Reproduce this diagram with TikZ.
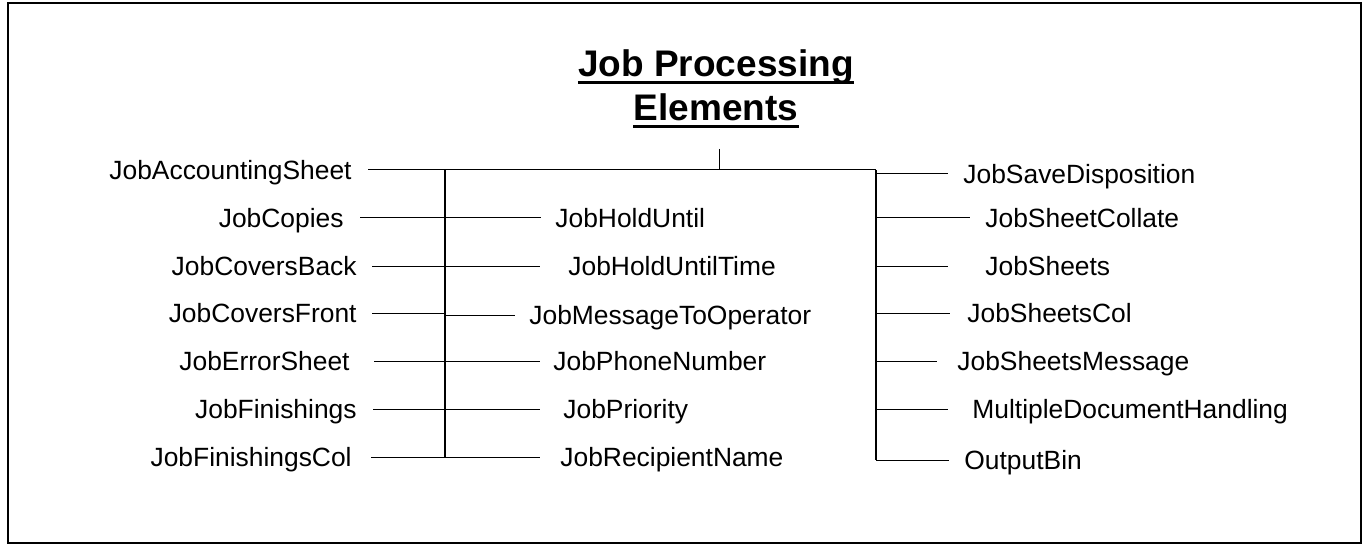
\documentclass[tikz,border=0pt]{standalone}
\usepackage{fontspec}
\setmainfont{Liberation Sans}

\tikzset{
  lbl/.style={inner xsep=#1, inner ysep=0pt, text height=9.5pt, text depth=0pt,
    font=\fontsize{13.2}{16}\selectfont},
  lbl/.default=7.5pt,
  ttl/.style={inner sep=0pt, font=\fontsize{18.5}{22}\selectfont\bfseries},
  branch/.style={line width=0.5pt},
  bus/.style={line width=0.9pt}
}

\begin{document}
\begin{tikzpicture}[x=0.5pt, y=-0.5pt]
  \useasboundingbox (0,0) rectangle (1364,545);
  \draw[line width=1pt] (8,3) rectangle (1361,543);

  % title
  \node[ttl, anchor=base] (ttl1) at (716,77) {Job Processing};
  \node[ttl, anchor=base] (ttl2) at (716,121) {Elements};
  \draw[line width=1.35pt] ([yshift=-2.75pt]ttl1.base west) -- ([yshift=-2.75pt]ttl1.base east);
  \draw[line width=1.35pt] ([yshift=-2.75pt]ttl2.base west) -- ([yshift=-2.75pt]ttl2.base east);

  % left column
  \node[lbl=8pt, anchor=east] (acc) at (368,170) {JobAccountingSheet};
  \node[lbl=8pt, anchor=east] (cop) at (360,218) {JobCopies};
  \node[lbl, anchor=east] (cvb) at (372,266) {JobCoversBack};
  \node[lbl, anchor=east] (cvf) at (372,313) {JobCoversFront};
  \node[lbl=12pt, anchor=east] (err) at (374,361) {JobErrorSheet};
  \node[lbl=8pt, anchor=east] (fin) at (373,409) {JobFinishings};
  \node[lbl=9.5pt, anchor=east] (fcl) at (371,457) {JobFinishingsCol};

  % middle column
  \node[lbl=7pt, anchor=west] (hld) at (541,218) {JobHoldUntil};
  \node[lbl=14pt, anchor=west] (hlt) at (540,266) {JobHoldUntilTime};
  \node[lbl=7pt, anchor=west] (msg) at (515,315) {JobMessageToOperator};
  \node[lbl=6.5pt, anchor=west] (phn) at (540,361) {JobPhoneNumber};
  \node[lbl=11.5pt, anchor=west] (pri) at (540,409) {JobPriority};
  \node[lbl=10pt, anchor=west] (rcp) at (540,457) {JobRecipientName};

  % right column
  \node[lbl, anchor=west] (sav) at (948,174) {JobSaveDisposition};
  \node[lbl, anchor=west] (col) at (970,218) {JobSheetCollate};
  \node[lbl=18.5pt, anchor=west] (shs) at (948,266) {JobSheets};
  \node[lbl=8.5pt, anchor=west] (scl) at (950,313) {JobSheetsCol};
  \node[lbl=10pt, anchor=west] (smg) at (937,361) {JobSheetsMessage};
  \node[lbl=12pt, anchor=west] (mdh) at (948,409) {MultipleDocumentHandling};
  \node[lbl, anchor=west] (out) at (949,460) {OutputBin};

  % connectors
  \coordinate (lbus) at (445,170);
  \coordinate (rbus) at (876,170);
  \coordinate (stub) at (719,149);
  \draw[branch] (stub) -- (stub |- rbus);
  \draw[branch] (acc.east) -- (rbus);
  \draw[bus] (lbus) -- (lbus |- fcl.east);
  \draw[bus] (rbus) -- (rbus |- out.west);
  \foreach \a/\b in {cop/hld, cvb/hlt, err/phn, fin/pri, fcl/rcp}
    \draw[branch] (\a.east) -- (\b.west);
  \draw[branch] (cvf.east) -- (cvf.east -| lbus);
  \draw[branch] (lbus |- msg.west) -- (msg.west);
  \foreach \n in {sav, col, shs, scl, smg, mdh, out}
    \draw[branch] (rbus |- \n.west) -- (\n.west);
\end{tikzpicture}
\end{document}
